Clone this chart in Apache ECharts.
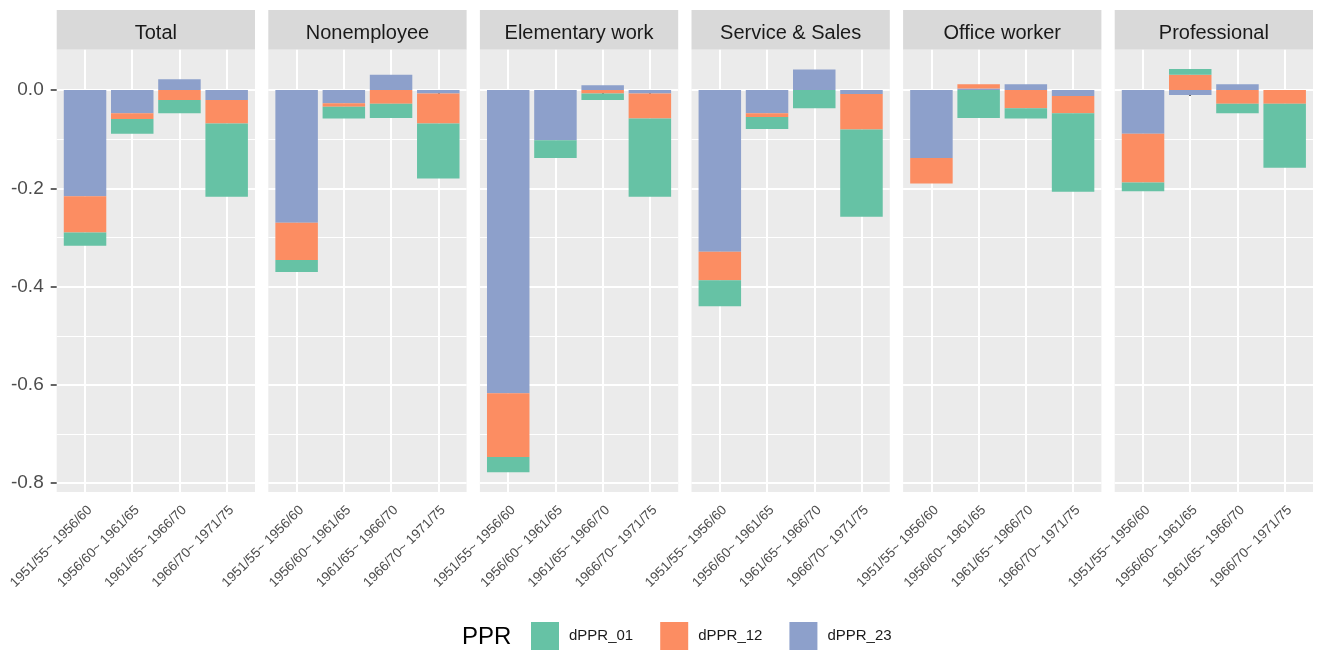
<!DOCTYPE html>
<html>
<head>
<meta charset="utf-8">
<script src="https://cdn.jsdelivr.net/npm/echarts@6/dist/echarts.min.js"></script>
<style>
html,body{margin:0;padding:0;background:#fff;}
#chart{width:1317px;height:653px;}
</style>
</head>
<body>
<div id="chart"></div>
<script>
// ---- data ----
const categories = ['1951/55~ 1956/60', '1956/60~ 1961/65', '1961/65~ 1966/70', '1966/70~ 1971/75'];
const panels = ['Total', 'Nonemployee', 'Elementary work', 'Service & Sales', 'Office worker', 'Professional'];
const seriesNames = ['dPPR_01', 'dPPR_12', 'dPPR_23'];
// one row per panel, one value per category
const dPPR_01 = [
  [-0.027, -0.030, -0.027, -0.149],
  [-0.024, -0.024, -0.029, -0.112],
  [-0.031, -0.036, -0.013, -0.159],
  [-0.053, -0.024, -0.037, -0.178],
  [0.000, -0.057, -0.021, -0.160],
  [-0.018, 0.012, -0.019, -0.130]
];
const dPPR_12 = [
  [-0.074, -0.012, -0.020, -0.048],
  [-0.076, -0.007, -0.028, -0.061],
  [-0.130, 0.000, -0.007, -0.051],
  [-0.058, -0.008, 0.000, -0.072],
  [-0.052, 0.009, -0.037, -0.035],
  [-0.099, 0.031, -0.028, -0.028]
];
const dPPR_23 = [
  [-0.216, -0.047, 0.022, -0.020],
  [-0.270, -0.027, 0.031, -0.007],
  [-0.617, -0.102, 0.010, -0.007],
  [-0.329, -0.047, 0.042, -0.008],
  [-0.138, 0.003, 0.012, -0.012],
  [-0.089, -0.010, 0.012, 0.000]
];
const yMajorTicks = [-0.8, -0.6, -0.4, -0.2, 0.0];
const yTickLabels = ['-0.8', '-0.6', '-0.4', '-0.2', '0.0'];
const yMinorTicks = [-0.7, -0.5, -0.3, -0.1];
const Y_MIN = -0.818, Y_MAX = 0.083;

// ---- layout / style ----
const COLORS = {dPPR_01: '#66C2A5', dPPR_12: '#FC8D62', dPPR_23: '#8DA0CB'};
const P_LEFT0 = 56.7, P_STEP = 211.6, P_W = 198.3, P_TOP = 49.3, P_H = 442.7;
const STRIP_TOP = 10, STRIP_H = 39.6;
const UNIT = P_W / 4.2;           // discrete scale: 4 categories + 0.6 expansion each side
const seriesData = {dPPR_01, dPPR_12, dPPR_23};
const stackOrder = ['dPPR_23', 'dPPR_12', 'dPPR_01'];
const tickStyle = {color: '#333333', width: 1.5};

const grids = [], xAxes = [], yAxes = [], series = [], graphics = [];
panels.forEach((p, i) => {
  const left = P_LEFT0 + i * P_STEP;
  // background grid (full panel) carrying horizontal grid lines and y axis
  grids.push({left: left, top: P_TOP, width: P_W, height: P_H, show: true,
    backgroundColor: '#EBEBEB', borderWidth: 0});
  // bar grid (inner, category bands)
  grids.push({left: left + 0.1 * UNIT, top: P_TOP, width: 4 * UNIT, height: P_H, show: false});
  const gBg = 2 * i, gBar = 2 * i + 1;

  xAxes.push({type: 'value', gridIndex: gBg, min: 0, max: 1, show: false,
    splitLine: {show: false}});
  xAxes.push({type: 'category', gridIndex: gBar, data: categories,
    axisLine: {show: false},
    axisTick: {show: true, alignWithLabel: true, length: 6, lineStyle: tickStyle},
    axisLabel: {interval: 0, rotate: 45, fontSize: 13.5, color: '#4D4D4D', margin: 11,
      verticalAlign: 'top', fontFamily: 'Liberation Sans'},
    splitLine: {show: true, alignWithLabel: true, lineStyle: {color: '#FFFFFF', width: 2}}
  });

  yAxes.push({type: 'value', gridIndex: gBg, min: Y_MIN, max: Y_MAX,
    axisLine: {show: false},
    axisTick: {show: i === 0, customValues: yMajorTicks, length: 6, lineStyle: tickStyle},
    axisLabel: {show: i === 0, customValues: yMajorTicks,
      formatter: v => yTickLabels[yMajorTicks.findIndex(t => Math.abs(t - v) < 1e-6)],
      margin: 13, fontSize: 19, color: '#4D4D4D', fontFamily: 'Liberation Sans'},
    splitLine: {show: true, lineStyle: {color: '#FFFFFF', width: 2}}
  });
  yAxes.push({type: 'value', gridIndex: gBg, min: Y_MIN, max: Y_MAX, position: 'left',
    axisLine: {show: false},
    axisTick: {show: false, customValues: yMinorTicks},
    axisLabel: {show: false, customValues: yMinorTicks},
    splitLine: {show: true, lineStyle: {color: '#FFFFFF', width: 1}}
  });
  const yBarIndex = yAxes.length;
  yAxes.push({type: 'value', gridIndex: gBar, min: Y_MIN, max: Y_MAX, show: false,
    splitLine: {show: false}});

  stackOrder.forEach(name => {
    series.push({type: 'bar', name: name, xAxisIndex: gBar, yAxisIndex: yBarIndex, stack: 'panel' + i,
      barWidth: '90%',
      itemStyle: {color: COLORS[name]},
      emphasis: {disabled: true},
      data: seriesData[name][i].slice()
    });
  });
  graphics.push({type: 'rect', z: 10, shape: {x: left, y: STRIP_TOP, width: P_W, height: STRIP_H},
    style: {fill: '#D9D9D9'}});
  graphics.push({type: 'text', z: 11, x: left + P_W / 2, y: STRIP_TOP + STRIP_H / 2 + 3.5,
    style: {text: p, fill: '#1A1A1A', fontSize: 20, fontFamily: 'Liberation Sans',
      align: 'center', verticalAlign: 'middle'}});
});
graphics.push({type: 'text', z: 11, x: 462, y: 637,
  style: {text: 'PPR', fill: '#000000', fontSize: 24, fontFamily: 'Liberation Sans',
    align: 'left', verticalAlign: 'middle'}});

const chart = echarts.init(document.getElementById('chart'), null, {renderer: 'canvas'});
chart.setOption({
  animation: false,
  backgroundColor: '#FFFFFF',
  grid: grids,
  xAxis: xAxes,
  yAxis: yAxes,
  series: series,
  legend: {data: seriesNames, left: 531, top: 622, padding: 0, itemWidth: 28, itemHeight: 28, itemGap: 27,
    icon: 'rect', textStyle: {fontSize: 15, color: '#1A1A1A', fontFamily: 'Liberation Sans', padding: [0, 0, 0, 5]}},
  graphic: graphics
});
</script>
</body>
</html>
